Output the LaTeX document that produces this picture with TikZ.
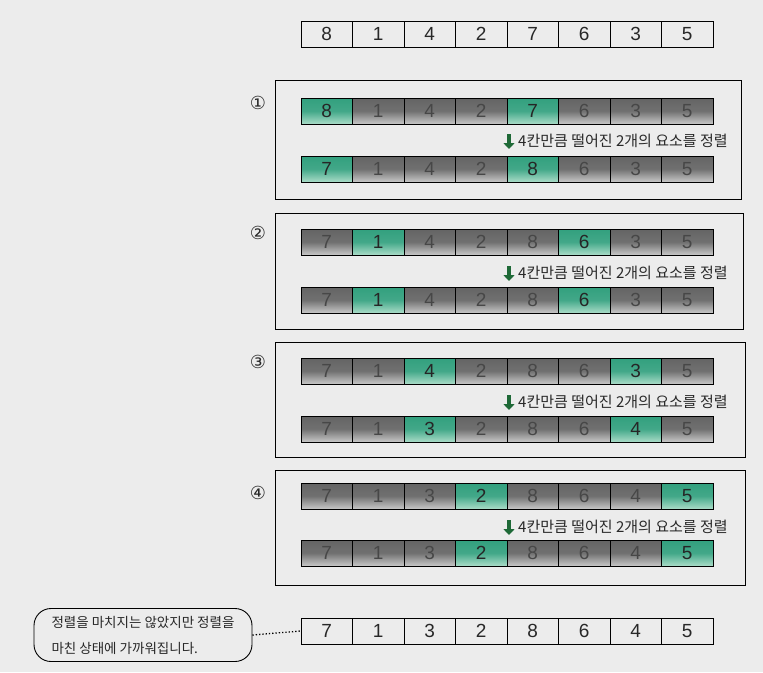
\documentclass[tikz,border=0pt]{standalone}
\usepackage{fontspec}
\setmainfont{Liberation Sans}
\newfontfamily\krfont{Noto Sans CJK KR}
\newfontfamily\symfont{DejaVu Sans}
\usetikzlibrary{arrows.meta}
\definecolor{bgc}{RGB}{236,236,236}
\definecolor{dgray}{RGB}{100,100,100}
\definecolor{lgray}{RGB}{200,200,200}
\definecolor{tealtop}{RGB}{50,160,126}
\definecolor{tealbot}{RGB}{170,220,200}
\definecolor{arrowgreen}{RGB}{30,105,55}
\definecolor{txt}{RGB}{40,40,40}
\tikzset{
  cellbase/.style={draw=black, line width=0.9pt, minimum width=51.5pt, minimum height=26pt,
    inner sep=0pt, font=\fontsize{19}{19}\selectfont},
  plaincell/.style={cellbase, text=txt},
  dcell/.style={cellbase, top color=dgray, bottom color=lgray, middle color=dgray!92, text=black!72},
  gcell/.style={cellbase, top color=tealtop, bottom color=tealbot, middle color=tealtop!92, text=black!85},
  panel/.style={draw=black, line width=0.8pt},
  stepnum/.style={font=\symfont\fontsize{18}{18}\selectfont, text=txt},
  steptext/.style={anchor=west, inner sep=0pt, font=\krfont\fontsize{15}{15}\selectfont, text=txt},
  downarrow/.style={draw=arrowgreen, line width=3.5pt, -{Triangle[length=6pt,width=11pt]}, arrowgreen}
}
\newcommand\cellrow[5]{%
  \foreach \v [count=\i] in {#3} {
    \pgfmathtruncatemacro\hl{(\i==#4)+(\i==#5)}
    \ifnum\hl=1
      \node[gcell] (#1-\i) at ({301+51.5*(\i-0.5)},#2) {\v};
    \else
      \node[dcell] (#1-\i) at ({301+51.5*(\i-0.5)},#2) {\v};
    \fi
  }}
\newcommand\plainrow[3]{%
  \foreach \v [count=\i] in {#3} {
    \node[plaincell] (#1-\i) at ({301+51.5*(\i-0.5)},#2) {\v};
  }}
\newcommand\steplabel[2]{%
  \node[steptext] (#1-t) at (518,#2) {4칸만큼 떨어진 2개의 요소를 정렬};
  \coordinate (#1-a1) at (509,#2-7);
  \coordinate (#1-a2) at (509,#2+8);
  \draw[downarrow] (#1-a1) -- (#1-a2);
}
\begin{document}
\begin{tikzpicture}[x=1pt,y=-1pt]
\fill[bgc] (0,0) rectangle (763,672);
\useasboundingbox (0,0) rectangle (763,672);

% top array
\plainrow{top}{34}{8,1,4,2,7,6,3,5}

% panel 1
\draw[panel] (275,80) rectangle (741,199);
\node[stepnum] (n1) at (258,103) {①};
\cellrow{pa}{111}{8,1,4,2,7,6,3,5}{1}{5}
\steplabel{s1}{141}
\cellrow{pb}{169}{7,1,4,2,8,6,3,5}{1}{5}

% panel 2
\draw[panel] (275,213) rectangle (743,329);
\node[stepnum] (n2) at (258,233) {②};
\cellrow{qa}{242}{7,1,4,2,8,6,3,5}{2}{6}
\steplabel{s2}{273}
\cellrow{qb}{300}{7,1,4,2,8,6,3,5}{2}{6}

% panel 3
\draw[panel] (275,342) rectangle (745,457);
\node[stepnum] (n3) at (258,362) {③};
\cellrow{ra}{371}{7,1,4,2,8,6,3,5}{3}{7}
\steplabel{s3}{402}
\cellrow{rb}{429}{7,1,3,2,8,6,4,5}{3}{7}

% panel 4
\draw[panel] (275,470) rectangle (745,585);
\node[stepnum] (n4) at (258,493) {④};
\cellrow{ua}{496}{7,1,3,2,8,6,4,5}{4}{8}
\steplabel{s4}{527}
\cellrow{ub}{553}{7,1,3,2,8,6,4,5}{4}{8}

% bottom array and note
\plainrow{bot}{631}{7,1,3,2,8,6,4,5}
\node[draw=black, line width=0.9pt, rounded corners=17pt, minimum width=218pt, minimum height=53pt,
  align=left, text=txt, font=\krfont\fontsize{13.5}{26}\selectfont] (note) at (143,635)
  {정렬을 마치지는 않았지만 정렬을\\마친 상태에 가까워집니다.};
\draw[dotted, line width=1.3pt] (note.east) -- (bot-1.west);
\end{tikzpicture}
\end{document}
